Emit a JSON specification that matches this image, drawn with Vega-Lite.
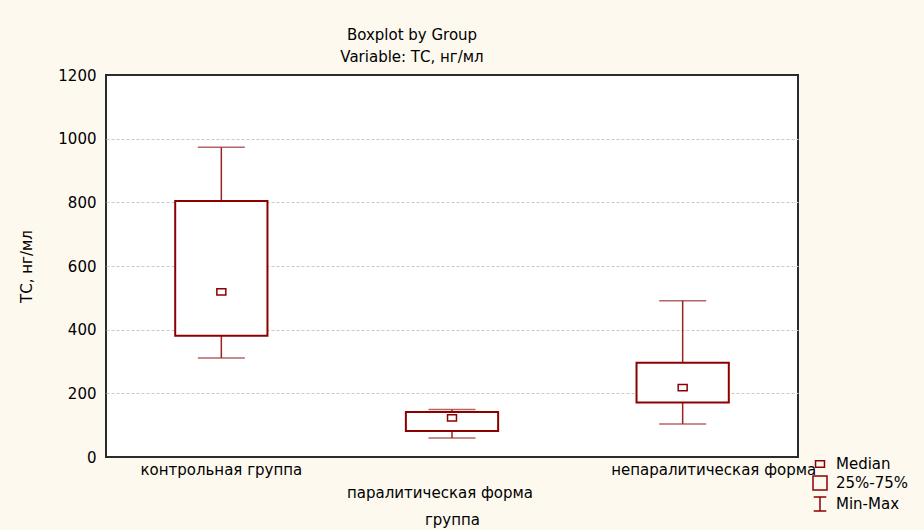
{
  "$schema": "https://vega.github.io/schema/vega-lite/v6.json",
  "width": 692,
  "height": 382,
  "autosize": {"type": "none"},
  "padding": {"left": 106, "top": 75, "right": 126, "bottom": 73},
  "background": "#FDF9EF",
  "title": {
    "text": "Boxplot by Group",
    "subtitle": "Variable: ТС, нг/мл",
    "anchor": "middle",
    "dx": -40,
    "offset": 3,
    "fontSize": 15,
    "fontWeight": "normal",
    "subtitleFontSize": 15,
    "subtitleColor": "#000000",
    "subtitlePadding": 7,
    "color": "#000000"
  },
  "data": {
    "values": [
      {"group": "контрольная группа", "min": 311, "q1": 381, "median": 519, "q3": 804, "max": 973},
      {"group": "паралитическая форма", "min": 60, "q1": 82, "median": 123, "q3": 141, "max": 149},
      {"group": "непаралитическая форма", "min": 104, "q1": 171, "median": 218, "q3": 296, "max": 491}
    ]
  },
  "encoding": {
    "x": {
      "field": "group",
      "type": "nominal",
      "sort": null,
      "scale": {"paddingInner": 0, "paddingOuter": 0},
      "axis": {
        "title": "группа",
        "labelAngle": 0,
        "domain": false,
        "ticks": false,
        "grid": false,
        "labelLimit": 0,
        "labelOverlap": false,
        "labelFontSize": 15,
        "labelColor": "#000000",
        "labelPadding": {"condition": {"test": "datum.value === 'паралитическая форма'", "value": 28}, "value": 5},
        "labelOffset": {"condition": [
          {"test": "datum.value === 'паралитическая форма'", "value": -12},
          {"test": "datum.value === 'непаралитическая форма'", "value": 31}
        ], "value": 0},
        "titleFontSize": 15,
        "titleFontWeight": "normal",
        "titleColor": "#000000",
        "titlePadding": 12
      }
    }
  },
  "layer": [
    {
      "mark": {"type": "rule", "color": "#992222", "strokeWidth": 1.5},
      "encoding": {
        "y": {
          "field": "min",
          "type": "quantitative",
          "scale": {"domain": [0, 1200], "nice": false},
          "title": "ТС, нг/мл",
          "axis": {
            "values": [0, 200, 400, 600, 800, 1000, 1200],
            "format": "d",
            "gridOpacity": {"condition": {"test": "datum.value === 1200 || datum.value === 0", "value": 0}, "value": 1}
          }
        },
        "y2": {"field": "max"}
      }
    },
    {
      "mark": {"type": "tick", "color": "#992222", "thickness": 1.5, "size": 47},
      "encoding": {"y": {"field": "min", "type": "quantitative", "title": "ТС, нг/мл"}}
    },
    {
      "mark": {"type": "tick", "color": "#992222", "thickness": 1.5, "size": 47},
      "encoding": {"y": {"field": "max", "type": "quantitative", "title": "ТС, нг/мл"}}
    },
    {
      "mark": {"type": "bar", "fill": "white", "stroke": "#8B0000", "strokeWidth": 2, "width": {"band": 0.4}},
      "encoding": {
        "y": {"field": "q1", "type": "quantitative", "title": "ТС, нг/мл"},
        "y2": {"field": "q3"}
      }
    },
    {
      "mark": {"type": "point", "filled": false, "stroke": "#8B0000", "strokeWidth": 1.5, "size": 196, "opacity": 1},
      "encoding": {
        "y": {"field": "median", "type": "quantitative", "title": "ТС, нг/мл"},
        "shape": {
          "datum": "Median",
          "type": "nominal",
          "scale": {
            "domain": ["Median", "25%-75%", "Min-Max"],
            "range": ["M-0.64,-0.45H0.64V0.45H-0.64Z", "M-1,-1H1V1H-1Z", "M-0.9,-1H0.9M0,-1V1M-0.9,1H0.9"]
          },
          "legend": {
            "title": null,
            "orient": "none",
            "legendX": 706,
            "legendY": 381,
            "symbolSize": 196,
            "symbolStrokeWidth": 1.5,
            "symbolStrokeColor": "#8B0000",
            "symbolFillColor": "transparent",
            "labelFontSize": 15,
            "labelColor": "#000000",
            "labelOffset": 8,
            "rowPadding": 1
          }
        }
      }
    }
  ],
  "config": {
    "font": "DejaVu Sans",
    "view": {"stroke": "#2b2b2b", "strokeWidth": 2, "fill": "white"},
    "axisY": {
      "domain": false,
      "ticks": false,
      "labelPadding": 10,
      "labelFontSize": 15,
      "labelColor": "#000000",
      "titleFontSize": 15,
      "titleFontWeight": "normal",
      "titleColor": "#000000",
      "titlePadding": 23,
      "gridColor": "#C8C8C8",
      "gridDash": [3, 2],
      "gridWidth": 1
    }
  }
}
